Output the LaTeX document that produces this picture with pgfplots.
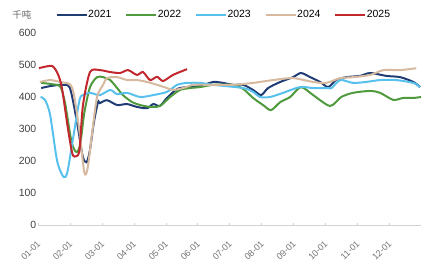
\documentclass[border=0pt]{standalone}
\usepackage{pgfplots}
\pgfplotsset{compat=1.18}
\usepackage{fontspec}
\setmainfont{Liberation Sans}
\newfontfamily\cjk{Noto Sans CJK SC}
\definecolor{c21}{HTML}{1F3C74}
\definecolor{c22}{HTML}{4E9A3C}
\definecolor{c23}{HTML}{58C0EC}
\definecolor{c24}{HTML}{D6B99E}
\definecolor{c25}{HTML}{C1272D}
\definecolor{tickgray}{HTML}{404040}
\begin{document}
\begin{tikzpicture}
\begin{axis}[
  scale only axis, width=383bp, height=192bp,
  xmin=0, xmax=12, ymin=0, ymax=600,
  axis lines=left, axis line style={-},
  y axis line style={draw=none},
  x axis line style={draw=gray!35},
  xtick={0,...,11},
  xticklabels={01-01,02-01,03-01,04-01,05-01,06-01,07-01,08-01,09-01,10-01,11-01,12-01},
  ytick={0,100,...,600},
  ytick style={draw=none},
  xtick style={draw=gray!35},
  major tick length=2pt,
  tick align=inside,
  /pgf/number format/assume math mode=true,
  yticklabel style={font=\fontsize{10.5}{12}\selectfont, text=tickgray, inner xsep=1.5pt},
  xticklabel style={font=\fontsize{9}{10}\selectfont, text=gray!90!black, rotate=45, anchor=north east, inner sep=0.5pt, xshift=-11bp, yshift=-9bp},
  legend columns=5,
  legend style={draw=none, fill=none, at={(0.483,1.094)}, anchor=center,
    font=\fontsize{10.5}{12}\selectfont, inner sep=0pt,
    nodes={inner xsep=0.5pt},
    /tikz/every odd column/.append style={column sep=0pt},
    /tikz/every even column/.append style={column sep=13bp}},
  legend cell align=left,
  legend image code/.code={\draw[#1,line width=2.4pt] (0bp,0bp) -- (30bp,0bp);},
  every axis plot/.append style={line width=2pt, smooth, tension=0.45},
  clip=false,
]
\addplot[c21] coordinates {(0.1,428) (0.38,434) (0.75,438) (1.00,428) (1.22,322) (1.40,215) (1.52,196) (1.62,230) (1.75,320) (1.88,384) (1.94,381) (2.16,390) (2.48,375) (2.79,378) (3.10,369) (3.42,365) (3.61,378) (3.82,372) (4.04,397) (4.36,425) (4.67,431) (5.08,434) (5.49,447) (5.80,444) (6.11,438) (6.43,438) (6.74,422) (6.99,406) (7.21,428) (7.59,447) (7.99,462) (8.24,475) (8.53,462) (8.84,447) (9.09,431) (9.34,453) (9.66,462) (10.09,466) (10.41,475) (10.91,466) (11.35,462) (11.76,447) (11.97,431)};
\addlegendentry{2021}
\addplot[c22] coordinates {(0.1,444) (0.45,440) (0.70,432) (0.85,380) (1.05,260) (1.20,228) (1.32,250) (1.45,350) (1.63,431) (1.85,462) (2.04,462) (2.26,453) (2.48,428) (2.66,406) (2.95,384) (3.20,375) (3.51,369) (3.82,372) (4.14,400) (4.45,422) (4.76,428) (5.08,431) (5.49,438) (6.11,438) (6.43,425) (6.74,397) (7.05,375) (7.30,359) (7.59,384) (7.90,400) (8.24,431) (8.62,406) (9.15,372) (9.50,400) (9.87,413) (10.41,419) (10.72,413) (11.13,391) (11.44,397) (11.76,397) (12.0,400)};
\addlegendentry{2022}
\addplot[c23] coordinates {(0.08,400) (0.22,391) (0.38,344) (0.60,200) (0.80,150) (0.92,165) (1.10,272) (1.30,390) (1.41,406) (1.63,413) (1.94,406) (2.26,422) (2.48,409) (2.79,413) (3.20,400) (3.61,406) (4.04,416) (4.36,438) (4.67,444) (5.08,444) (5.49,438) (6.43,428) (6.74,416) (6.96,400) (7.27,400) (7.68,413) (8.21,431) (8.62,428) (9.09,428) (9.20,428) (9.47,453) (9.87,444) (10.28,447) (10.72,453) (11.22,453) (11.76,444) (11.97,431)};
\addlegendentry{2023}
\addplot[c24] coordinates {(0.06,447) (0.38,453) (0.69,447) (1.00,440) (1.12,410) (1.29,300) (1.45,165) (1.55,175) (1.70,290) (1.85,400) (2.04,438) (2.16,459) (2.48,462) (2.79,453) (3.10,453) (3.42,447) (3.73,438) (4.04,428) (4.23,422) (4.55,428) (4.86,438) (5.30,438) (5.49,438) (6.11,438) (6.74,444) (7.37,453) (7.99,459) (8.62,447) (9.03,444) (9.47,459) (9.87,462) (10.41,469) (10.82,484) (11.35,484) (11.85,490)};
\addlegendentry{2024}
\addplot[c25] coordinates {(0.03,490) (0.44,497) (0.63,470) (0.75,428) (0.94,300) (1.08,222) (1.20,215) (1.30,235) (1.41,375) (1.63,478) (1.94,484) (2.26,478) (2.57,475) (2.82,484) (3.10,469) (3.29,478) (3.51,453) (3.73,463) (3.92,450) (4.23,469) (4.67,487)};
\addlegendentry{2025}
\node[font=\cjk\fontsize{9.5}{10}\selectfont, text=gray!80!black] at (rel axis cs:-0.042,1.094) {千吨};
\end{axis}
\pgfresetboundingbox
\path[use as bounding box] ([xshift=-38bp,yshift=-39bp]current axis.south west) rectangle ([xshift=5bp,yshift=33bp]current axis.north east);
\end{tikzpicture}
\end{document}
